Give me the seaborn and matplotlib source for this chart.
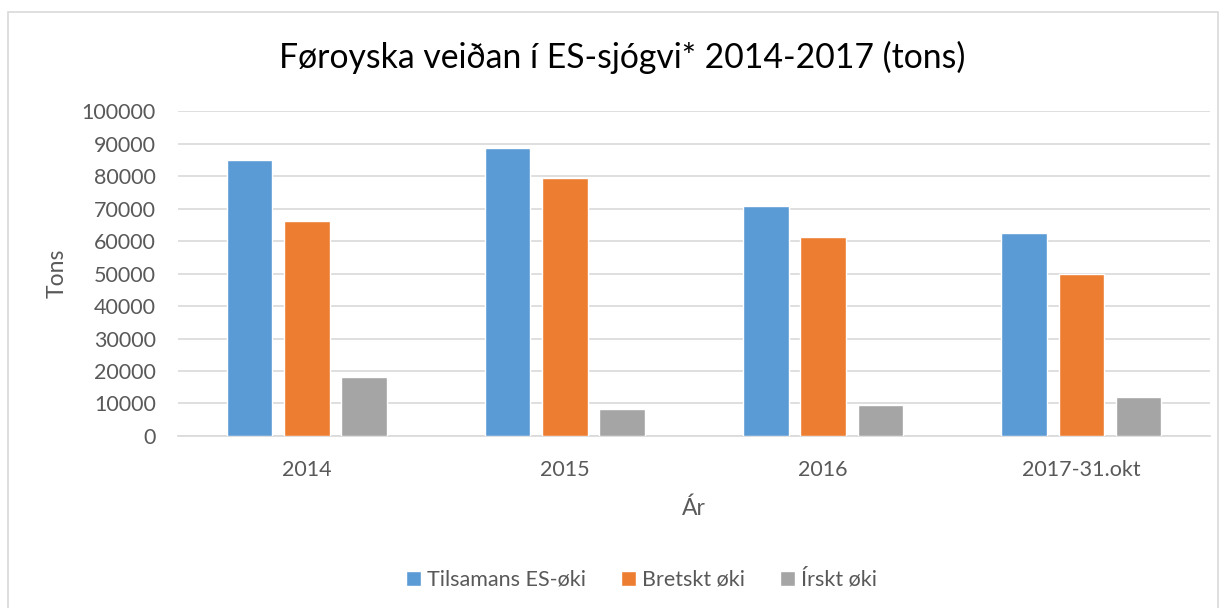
import pandas as pd
import matplotlib.pyplot as plt
import seaborn as sns
from matplotlib.patches import Rectangle

# values (tons)
years = ["2014", "2015", "2016", "2017-31.okt"]
series = ["Tilsamans ES-øki", "Bretskt øki", "Írskt øki"]
tilsamans = [85000, 88500, 70900, 62400]
bretskt = [66200, 79400, 61100, 49900]
irskt = [18300, 8300, 9400, 12000]
colors = ["#5B9BD5", "#ED7D31", "#A5A5A5"]

df = pd.DataFrame({
    "Ár": years * 3,
    "Tons": tilsamans + bretskt + irskt,
    "Øki": [s for s in series for _ in years],
})

sns.set_theme(style="white")
plt.rcParams["font.family"] = ["Lato", "DejaVu Sans"]

fig = plt.figure(figsize=(12.24, 6.08), dpi=100)
ax = fig.add_axes([0.1454, 0.2829, 0.8432, 0.5345])

sns.barplot(data=df, x="Ár", y="Tons", hue="Øki", hue_order=series,
            palette=colors, width=0.663, gap=0.21, saturation=1,
            ax=ax, legend=True, zorder=3)

ax.set_ylim(0, 100000)
ax.set_xlim(-0.5, 3.5)
ax.set_yticks(range(0, 100001, 10000))
ax.yaxis.grid(True, color="#d9d9d9", linewidth=1.2, zorder=0)
for s in ["top", "right", "left"]:
    ax.spines[s].set_visible(False)
ax.spines["bottom"].set_color("#d9d9d9")
ax.spines["bottom"].set_linewidth(1.2)
ax.tick_params(axis="y", length=0, labelsize=15.5, labelcolor="#595959", pad=16)
ax.tick_params(axis="x", length=0, labelsize=15.5, labelcolor="#595959", pad=17)

ax.set_xlabel("Ár", fontsize=16.5, color="#595959", labelpad=13)
ax.set_ylabel("Tons", fontsize=16.5, color="#595959")
ax.yaxis.set_label_coords(-0.1066, 0.5)

fig.text(0.508, 0.905, "Føroyska veiðan í ES-sjógvi* 2014-2017 (tons)",
         ha="center", va="center", fontsize=24.3, color="#000000")

handles, labels = ax.get_legend_handles_labels()
ax.get_legend().remove()
fig.legend(handles, labels, loc="center", bbox_to_anchor=(0.524, 0.047), ncol=3,
           frameon=False, fontsize=15.5, labelcolor="#595959",
           handlelength=0.7, handleheight=0.7, handletextpad=0.3, columnspacing=1.6)

# light chart border like the spreadsheet frame
fig.patches.append(Rectangle((8 / 1224, -0.01), 1210 / 1224, 1 - 12 / 608 + 0.01,
                             transform=fig.transFigure, fill=False,
                             edgecolor="#d9d9d9", linewidth=1.2))

fig.savefig("out.png", dpi=100)
